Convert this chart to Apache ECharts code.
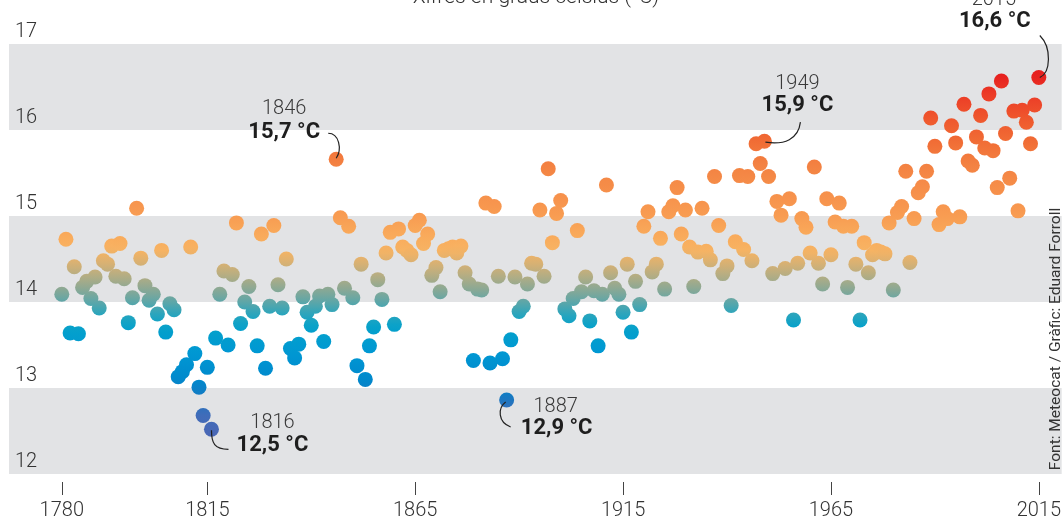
<!DOCTYPE html>
<html>
<head>
<meta charset="utf-8">
<script src="https://cdn.jsdelivr.net/npm/echarts@6/dist/echarts.min.js"></script>
<style>
html,body{margin:0;padding:0;background:#ffffff;}
#c{width:1064px;height:524px;}
</style>
</head>
<body>
<div id="c"></div>
<script>
// ---------------- DATA ----------------
const FIRST_YEAR = 1780;
// Annual mean temperature (°C), 1780 ... 2015
const temperatures = [
 14.09,14.73,13.64,14.41,13.63,14.17,14.24,14.04,14.29,13.93, // 1780-1789
 14.48,14.44,14.65,14.30,14.68,14.27,13.76,14.05,15.09,14.51, // 1790-1799
 14.19,14.02,14.09,13.86,14.60,13.65,13.98,13.91,13.13,13.19, // 1800-1809
 13.27,14.64,13.40,13.01,12.68,13.24,12.52,13.58,14.09,14.36, // 1810-1819
 13.50,14.32,14.92,13.75,14.00,14.18,13.89,13.49,14.79,13.23, // 1820-1829
 13.95,14.89,14.20,13.93,14.50,13.46,13.35,13.51,14.06,13.88, // 1830-1839
 13.73,13.95,14.07,13.54,14.09,13.97,15.66,14.98,14.16,14.88, // 1840-1849
 14.05,13.26,14.44,13.10,13.49,13.71,14.26,14.03,14.57,14.81, // 1850-1859
 13.74,14.85,14.64,14.60,14.55,14.89,14.95,14.68,14.79,14.31, // 1860-1869
 14.40,14.12,14.60,14.62,14.64,14.57,14.65,14.34,14.21,13.32, // 1870-1879
 14.15,14.14,15.15,13.29,15.11,14.30,13.34,12.86,13.56,14.29, // 1880-1889
 13.89,13.95,14.21,14.45,14.44,15.07,14.30,15.55,14.69,15.03, // 1890-1899
 15.18,13.92,13.84,14.04,14.83,14.12,14.29,13.78,14.13,13.49, // 1900-1909
 14.09,15.36,14.34,14.16,14.09,13.88,14.44,13.65,14.24,13.97, // 1910-1919
 14.88,15.05,14.35,14.44,14.74,14.15,15.05,15.12,15.33,14.79, // 1920-1929
 15.07,14.64,14.18,14.58,15.09,14.59,14.49,15.46,14.89,14.33, // 1930-1939
 14.42,13.96,14.70,15.47,14.61,15.46,14.48,15.84,15.61,15.87, // 1940-1949
 15.46,14.33,15.17,15.01,14.39,15.20,13.79,14.45,14.97,14.87, // 1950-1959
 14.57,15.57,14.45,14.21,15.20,14.55,14.93,15.15,14.88,14.17, // 1960-1969
 14.88,14.44,13.79,14.69,14.34,14.55,14.60,14.58,14.56,14.92, // 1970-1979
 14.14,15.04,15.11,15.52,14.46,14.97,15.27,15.34,15.52,16.14, // 1980-1989
 15.81,14.90,15.05,14.97,16.05,15.85,14.99,16.30,15.64,15.59, // 1990-1999
 15.92,16.17,15.79,16.42,15.76,15.33,16.57,15.96,15.44,16.22, // 2000-2009
 15.06,16.23,16.09,15.84,16.29,16.61                          // 2010-2015
];
const years = temperatures.map((_, i) => FIRST_YEAR + i);
const xTickYears = [1780, 1815, 1865, 1915, 1965, 2015];
const yTicks = [12, 13, 14, 15, 16, 17];
const titleText = 'Xifres en graus celsius (°C)';
const sourceText = 'Font: Meteocat / Gràfic: Eduard Forroll';
const highlightYears  = [1816, 1846, 1887, 1949, 2015];
const highlightLabels = ['12,5 °C', '15,7 °C', '12,9 °C', '15,9 °C', '16,6 °C'];

// ---------------- STYLE ----------------
const FONT = 'Roboto, "Noto Sans", sans-serif';
const ramp = [
 [16.65,'#E61E1E'],[16.4,'#EC3D27'],[16.1,'#EF5A2E'],[15.85,'#F16E36'],
 [15.6,'#F38242'],[15.3,'#F68F4A'],[15.0,'#F89C52'],[14.75,'#F9AC5C'],
 [14.6,'#F7B363'],[14.45,'#D8B173'],[14.3,'#B3AD84'],[14.15,'#8BA894'],
 [14.0,'#5EA6A8'],[13.85,'#27A5BE'],[13.7,'#04A1CB'],[13.4,'#0097D3'],
 [13.1,'#0089CC'],[12.9,'#1479C2'],[12.7,'#3F6CB9'],[12.45,'#4A67B5']
];
function hex2rgb(h){return [parseInt(h.substr(1,2),16),parseInt(h.substr(3,2),16),parseInt(h.substr(5,2),16)];}
function colorAt(t){
  if (t >= ramp[0][0]) return ramp[0][1];
  for (let i = 0; i < ramp.length - 1; i++){
    const [t0,c0] = ramp[i], [t1,c1] = ramp[i+1];
    if (t <= t0 && t >= t1){
      const f = (t0 - t)/(t0 - t1);
      const a = hex2rgb(c0), b = hex2rgb(c1);
      const m = a.map((v,k)=>Math.round(v + (b[k]-v)*f));
      return 'rgb(' + m.join(',') + ')';
    }
  }
  return ramp[ramp.length-1][1];
}
const SYMBOL = 15;
const DEG_PER_PX = 1/86;
const halfSpan = (SYMBOL/2) * DEG_PER_PX;

const annLayout = {
  1816: {year:[61,-6],  value:[61,16],   curve:[[0,1],[0,14],[3,20],[17,20]]},
  1846: {year:[-52,-50],value:[-52,-27], curve:[[-8,-26],[3,-26],[6,-10],[0,-1]]},
  1887: {year:[49,7],   value:[50,28],   curve:[[-1,2],[-9,8],[-9,22],[4,27]]},
  1949: {year:[33,-57], value:[33,-36],  curve:[[36,-19],[34,-2],[20,4],[1,1]]},
  2015: {year:[-45,-78],value:[-44,-56], curve:[[1,-42],[13,-30],[12,-5],[1,0]]}
};

const points = years.map((y, i) => {
  const t = temperatures[i];
  return {
    value: [y, t],
    itemStyle: { color: { type:'linear', x:0, y:0, x2:0, y2:1, colorStops:[
      {offset:0, color: colorAt(t + halfSpan)},
      {offset:0.5, color: colorAt(t)},
      {offset:1, color: colorAt(t - halfSpan)}
    ]}}
  };
});

const chart = echarts.init(document.getElementById('c'), null, {renderer:'canvas'});
chart.setOption({
  animation: false,
  backgroundColor: '#ffffff',
  grid: { left: 9, right: 1, top: 44, bottom: 50, containLabel: false },
  xAxis: {
    type: 'value', min: 1767.3, max: 2020.5,
    offset: 8,
    axisLine: { show: false },
    splitLine: { show: false },
    axisTick: { show: true, customValues: xTickYears, length: 13, lineStyle: { color: '#444', width: 1 } },
    axisLabel: { customValues: xTickYears, formatter: v => String(v), margin: 19, fontSize: 20, fontFamily: FONT, fontWeight: 300, color: '#333' }
  },
  yAxis: {
    type: 'value', min: yTicks[0], max: yTicks[yTicks.length-1], interval: 1,
    axisLine: { show: false }, axisTick: { show: false },
    splitLine: { show: false },
    splitArea: { show: true, areaStyle: { color: ['#E2E3E5', '#FFFFFF'] } },
    axisLabel: { inside: true, verticalAlign: 'bottom', margin: 6, fontSize: 20, fontFamily: FONT, fontWeight: 300, color: '#333', padding: [0,0,2,0] }
  },
  series: [{
    type: 'scatter', symbol: 'circle', symbolSize: SYMBOL,
    data: points,
    itemStyle: { opacity: 1 },
    emphasis: { disabled: true }
  }]
});

const graphics = [];
graphics.push({
  type: 'text', x: 536, y: -2,
  style: { text: titleText, fontSize: 21, fontFamily: FONT, fontWeight: 300, fill: '#333', align: 'center', verticalAlign: 'middle' }
});
graphics.push({
  type: 'text', x: 1056, y: 339, rotation: Math.PI/2,
  style: { text: sourceText, fontSize: 15.5, fontFamily: FONT, fill: '#333', align: 'center', verticalAlign: 'middle' }
});
highlightYears.forEach((yr, k) => {
  const t = temperatures[yr - FIRST_YEAR];
  const [px, py] = chart.convertToPixel({gridIndex: 0}, [yr, t]);
  const L = annLayout[yr];
  graphics.push({
    type: 'text', x: px + L.year[0], y: py + L.year[1],
    style: { text: String(yr), fontSize: 20, fontFamily: FONT, fontWeight: 300, fill: '#3a3a3a', align: 'center', verticalAlign: 'middle' }
  });
  graphics.push({
    type: 'text', x: px + L.value[0], y: py + L.value[1],
    style: { text: highlightLabels[k], fontSize: 22, fontFamily: FONT, fontWeight: 'bold', fill: '#1e1e1e', align: 'center', verticalAlign: 'middle' }
  });
  const c = L.curve;
  graphics.push({
    type: 'bezierCurve', z: 100,
    shape: { x1: px+c[0][0], y1: py+c[0][1], cpx1: px+c[1][0], cpy1: py+c[1][1], cpx2: px+c[2][0], cpy2: py+c[2][1], x2: px+c[3][0], y2: py+c[3][1] },
    style: { stroke: '#222', lineWidth: 1.2, fill: null }
  });
});
chart.setOption({ graphic: graphics });
</script>
</body>
</html>
